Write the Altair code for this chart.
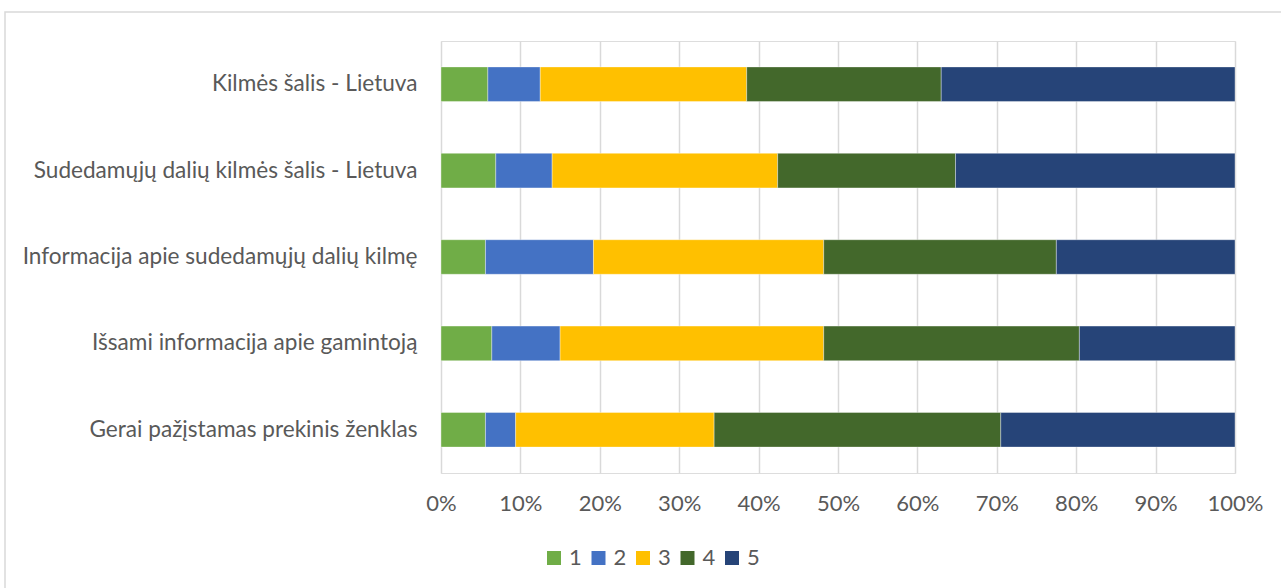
import altair as alt
import pandas as pd

categories = [
    "Kilmės šalis - Lietuva",
    "Sudedamųjų dalių kilmės šalis - Lietuva",
    "Informacija apie sudedamųjų dalių kilmę",
    "Išsami informacija apie gamintoją",
    "Gerai pažįstamas prekinis ženklas",
]
series_names = ["1", "2", "3", "4", "5"]
s1 = [5.9, 6.9, 5.6, 6.4, 5.6]
s2 = [6.6, 7.1, 13.6, 8.6, 3.8]
s3 = [26.0, 28.4, 29.0, 33.2, 25.0]
s4 = [24.5, 22.4, 29.3, 32.2, 36.1]
s5 = [37.0, 35.2, 22.5, 19.6, 29.5]
colors = ["#70AD47", "#4472C4", "#FFC000", "#43682B", "#264478"]

rows = []
for si, (name, vals) in enumerate(zip(series_names, [s1, s2, s3, s4, s5])):
    for c, v in zip(categories, vals):
        rows.append({"cat": c, "series": name, "value": v, "ord": si})
df = pd.DataFrame(rows)

FONT = "Lato"
TXT = "#595959"
FS = 22

border = alt.Chart(alt.Data(values=[{}])).mark_rect(
    fill="transparent", stroke="#d9d9d9", strokeWidth=1.5
).encode(
    x=alt.value(-436), x2=alt.value(900), y=alt.value(-29), y2=alt.value(600)
)

bars = alt.Chart(df).mark_bar(stroke="white", strokeWidth=0.6, strokeOpacity=0.6).encode(
    y=alt.Y("cat:N", sort=categories, title=None,
            scale=alt.Scale(paddingInner=0.6, paddingOuter=0.3),
            axis=alt.Axis(domain=False, ticks=False, labelPadding=24,
                          labelFontSize=22.6, labelFont=FONT, labelColor=TXT,
                          labelLimit=500)),
    x=alt.X("value:Q", stack="normalize", title=None,
            scale=alt.Scale(domain=[0, 1]),
            axis=alt.Axis(format="%", values=[i / 10 for i in range(11)],
                          domain=False, ticks=False, labelPadding=20,
                          labelFontSize=FS, labelFont=FONT, labelColor=TXT,
                          grid=True, gridColor="#d9d9d9", gridWidth=1.5,
                          labelFlush=False)),
    color=alt.Color("series:N", scale=alt.Scale(domain=series_names, range=colors),
                    legend=alt.Legend(orient="none", legendX=102, legendY=506,
                                      direction="horizontal", title=None,
                                      symbolType="square", symbolSize=196,
                                      symbolStrokeWidth=0, labelFontSize=FS,
                                      labelFont=FONT, labelColor=TXT,
                                      columnPadding=5.5, labelOffset=4)),
    order=alt.Order("ord:Q"),
)

chart = alt.layer(border, bars).properties(
    width=794, height=432,
    autosize=alt.AutoSizeParams(type="none"),
    padding={"left": 441, "top": 41, "right": 46, "bottom": 115},
).configure_view(stroke=None).configure(background="white")

chart.save("out.html", embed_options={"renderer": "svg", "actions": False})
